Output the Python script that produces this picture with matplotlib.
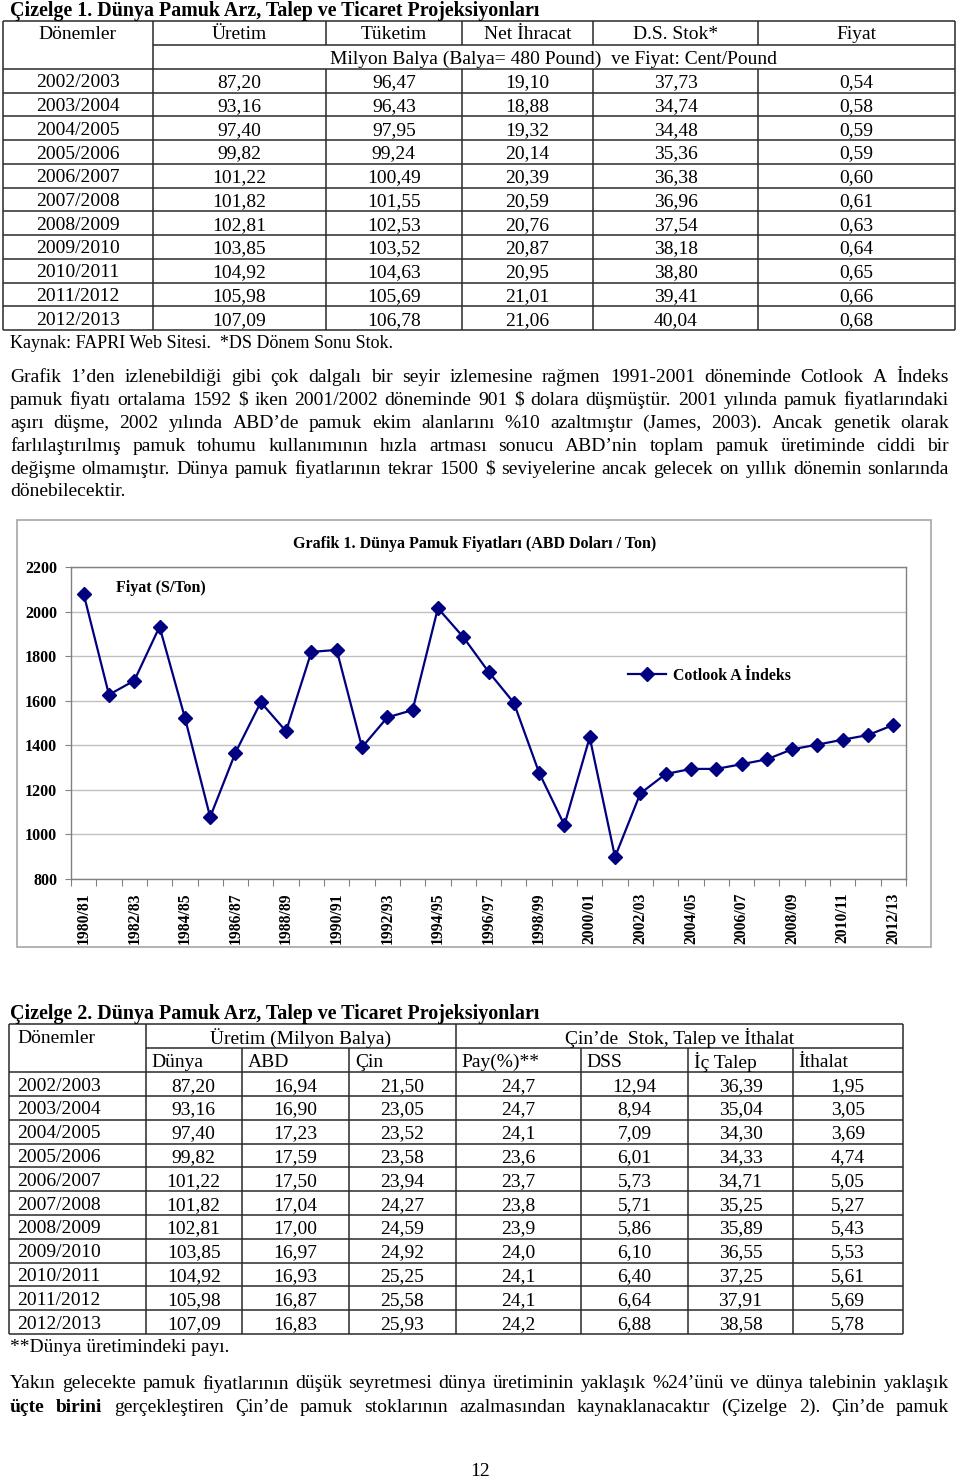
import numpy as np
import matplotlib
matplotlib.use('Agg')
import matplotlib.pyplot as plt
from matplotlib.patches import Rectangle

plt.rcParams['font.family'] = ['Liberation Serif', 'DejaVu Serif']

# ---------------- data ----------------
t1_periods = ["2002/2003", "2003/2004", "2004/2005", "2005/2006", "2006/2007", "2007/2008",
              "2008/2009", "2009/2010", "2010/2011", "2011/2012", "2012/2013"]
t1_uretim = [87.20, 93.16, 97.40, 99.82, 101.22, 101.82, 102.81, 103.85, 104.92, 105.98, 107.09]
t1_tuketim = [96.47, 96.43, 97.95, 99.24, 100.49, 101.55, 102.53, 103.52, 104.63, 105.69, 106.78]
t1_ihracat = [19.10, 18.88, 19.32, 20.14, 20.39, 20.59, 20.76, 20.87, 20.95, 21.01, 21.06]
t1_stok = [37.73, 34.74, 34.48, 35.36, 36.38, 36.96, 37.54, 38.18, 38.80, 39.41, 40.04]
t1_fiyat = [0.54, 0.58, 0.59, 0.59, 0.60, 0.61, 0.63, 0.64, 0.65, 0.66, 0.68]
t1_headers = ["Dönemler", "Üretim", "Tüketim", "Net İhracat", "D.S. Stok*", "Fiyat"]

seasons = ["1980/81", "1981/82", "1982/83", "1983/84", "1984/85", "1985/86", "1986/87",
           "1987/88", "1988/89", "1989/90", "1990/91", "1991/92", "1992/93", "1993/94",
           "1994/95", "1995/96", "1996/97", "1997/98", "1998/99", "1999/00", "2000/01",
           "2001/02", "2002/03", "2003/04", "2004/05", "2005/06", "2006/07", "2007/08",
           "2008/09", "2009/10", "2010/11", "2011/12", "2012/13"]
prices = [2079, 1627, 1690, 1932, 1524, 1078, 1367, 1593, 1463, 1819, 1828,
          1391, 1525, 1558, 2015, 1886, 1730, 1591, 1277, 1042, 1436, 899,
          1184, 1271, 1294, 1294, 1315, 1337, 1382, 1403, 1425, 1446, 1491]
yticks = [800, 1000, 1200, 1400, 1600, 1800, 2000, 2200]

t2_periods = t1_periods
t2_dunya = [87.20, 93.16, 97.40, 99.82, 101.22, 101.82, 102.81, 103.85, 104.92, 105.98, 107.09]
t2_abd = [16.94, 16.90, 17.23, 17.59, 17.50, 17.04, 17.00, 16.97, 16.93, 16.87, 16.83]
t2_cin = [21.50, 23.05, 23.52, 23.58, 23.94, 24.27, 24.59, 24.92, 25.25, 25.58, 25.93]
t2_pay = [24.7, 24.7, 24.1, 23.6, 23.7, 23.8, 23.9, 24.0, 24.1, 24.1, 24.2]
t2_dss = [12.94, 8.94, 7.09, 6.01, 5.73, 5.71, 5.86, 6.10, 6.40, 6.64, 6.88]
t2_ictalep = [36.39, 35.04, 34.30, 34.33, 34.71, 35.25, 35.89, 36.55, 37.25, 37.91, 38.58]
t2_ithalat = [1.95, 3.05, 3.69, 4.74, 5.05, 5.27, 5.43, 5.53, 5.61, 5.69, 5.78]
t2_sub = ["Dünya", "ABD", "Çin", "Pay(%)**", "DSS", "İç Talep", "İthalat"]

para1 = [
    "Grafik 1’den izlenebildiği gibi çok dalgalı bir seyir izlemesine rağmen 1991-2001 döneminde Cotlook A İndeks",
    "pamuk fiyatı ortalama 1592 $ iken 2001/2002 döneminde 901 $ dolara düşmüştür. 2001 yılında pamuk fiyatlarındaki",
    "aşırı düşme, 2002 yılında ABD’de pamuk ekim alanlarını %10 azaltmıştır (James, 2003). Ancak genetik olarak",
    "farlılaştırılmış pamuk tohumu kullanımının hızla artması sonucu ABD’nin toplam pamuk üretiminde ciddi bir",
    "değişme olmamıştır. Dünya pamuk fiyatlarının tekrar 1500 $ seviyelerine ancak gelecek on yıllık dönemin sonlarında",
    "dönebilecektir.",
]
para2_l1 = "Yakın gelecekte pamuk fiyatlarının düşük seyretmesi dünya üretiminin yaklaşık %24’ünü ve dünya talebinin yaklaşık"
para2_l2_bold = "üçte birini"
para2_l2 = "gerçekleştiren Çin’de pamuk stoklarının azalmasından kaynaklanacaktır (Çizelge 2). Çin’de pamuk"

# ---------------- page ----------------
W, H = 960, 1478
fig = plt.figure(figsize=(W / 100, H / 100), dpi=100)
bg = fig.add_axes([0, 0, 1, 1])
bg.set_xlim(0, W)
bg.set_ylim(H, 0)
bg.axis('off')
renderer = fig.canvas.get_renderer()

FS = 14
LC = '#2a2a2a'
LW = 1.1
DY = 2.0  # vertical text nudge


def fmt(v, d=2):
    return f"{v:.{d}f}".replace('.', ',')


def txt(x, y, s, size=FS, weight='normal', ha='left', va='center', **kw):
    return bg.text(x, y + DY, s, fontsize=size, fontweight=weight, ha=ha, va=va,
                   parse_math=False, **kw)


def hline(y, x0, x1, color=LC, lw=LW):
    bg.plot([x0, x1], [y, y], color=color, lw=lw, solid_capstyle='butt')


def vline(x, y0, y1, color=LC, lw=LW):
    bg.plot([x, x], [y0, y1], color=color, lw=lw, solid_capstyle='butt')


def measure(s, size, weight):
    t = bg.text(0, 0, s, fontsize=size, fontweight=weight, parse_math=False)
    w = t.get_window_extent(renderer).width
    t.remove()
    return w


def justified(words, y, size=FS, x0=10, x1=949, justify=True):
    while True:
        ws = [measure(w, size, wt) for w, wt in words]
        space = measure('a b', size, 'normal') - measure('ab', size, 'normal')
        n = len(words)
        if not justify or n == 1:
            gap = space
            break
        gap = (x1 - x0 - sum(ws)) / (n - 1)
        if gap >= 0.55 * space:
            break
        size -= 0.25
    x = x0
    for (w, wt), wd in zip(words, ws):
        txt(x, y, w, size=size, weight=wt)
        x += wd + gap


# ---------------- Table 1 ----------------
txt(10, 9, "Çizelge 1. Dünya Pamuk Arz, Talep ve Ticaret Projeksiyonları", size=14.4, weight='bold')
c1 = [3, 152.7, 326, 461.7, 593.3, 758.3, 955]
r_top, r_h1, r_h2 = 20.7, 45, 69
rh1 = (330 - r_h2) / len(t1_periods)
rows1 = [r_h2 + i * rh1 for i in range(len(t1_periods) + 1)]

hline(r_top, c1[0], c1[-1])
hline(r_h1, c1[1], c1[-1])
for y in rows1:
    hline(y, c1[0], c1[-1])
vline(c1[0], r_top, rows1[-1])
vline(c1[1], r_top, rows1[-1])
vline(c1[-1], r_top, rows1[-1])
for x in c1[2:-1]:
    vline(x, r_top, r_h1)
    vline(x, r_h2, rows1[-1])

for i, h in enumerate(t1_headers):
    txt((c1[i] + c1[i + 1]) / 2, (r_top + r_h1) / 2, h, ha='center')
txt((c1[1] + c1[-1]) / 2, (r_h1 + r_h2) / 2,
    "Milyon Balya (Balya= 480 Pound)  ve Fiyat: Cent/Pound", ha='center')

cols1 = [t1_uretim, t1_tuketim, t1_ihracat, t1_stok, t1_fiyat]
for r, p in enumerate(t1_periods):
    yc = (rows1[r] + rows1[r + 1]) / 2
    txt((c1[0] + c1[1]) / 2, yc, p, ha='center')
    for j, col in enumerate(cols1):
        txt((c1[j + 1] + c1[j + 2]) / 2, yc, fmt(col[r]), ha='center')

txt(10, 342, "Kaynak: FAPRI Web Sitesi.  *DS Dönem Sonu Stok.", size=13)

# ---------------- Paragraph 1 ----------------
p1_y = [376, 398.5, 421.5, 444.5, 467, 490]
for k, line in enumerate(para1):
    words = [(w, 'normal') for w in line.split()]
    justified(words, p1_y[k], justify=(k < len(para1) - 1))

# ---------------- Chart ----------------
bg.add_patch(Rectangle((17, 520), 931 - 17, 947 - 520, fill=False,
                       edgecolor='#a6a6a6', lw=1.2))
ax = fig.add_axes([71 / W, 1 - 879 / H, 835 / W, 312 / H])
xs = np.arange(len(seasons))
ax.plot(xs, prices, color='#000080', lw=1.6, marker='D', ms=7,
        label='Cotlook A İndeks', zorder=3)
ax.set_xlim(-0.5, len(seasons) - 0.5)
ax.set_ylim(yticks[0], yticks[-1])
ax.set_yticks(yticks)
ax.set_yticklabels([str(v) for v in yticks], fontweight='bold', fontsize=11.5)
ax.yaxis.grid(True, color='#c0c0c0', lw=1)
ax.set_axisbelow(True)
ax.set_xticks(np.arange(-0.5, len(seasons)))
ax.set_xticklabels([])
ax.set_xticks(xs[::2], minor=True)
ax.set_xticklabels(seasons[::2], minor=True, rotation=90, fontweight='bold', fontsize=11.3)
ax.tick_params(axis='x', which='major', length=5, direction='out', color='#808080')
ax.tick_params(axis='x', which='minor', length=0, pad=9.5)
ax.tick_params(axis='y', length=4, color='#808080', pad=6.0)
for s in ax.spines.values():
    s.set_color('#808080')
    s.set_linewidth(1.0)
ax.patch.set_alpha(0)
ax.legend(loc='center left', bbox_to_anchor=((628 - 71) / 835, (879 - 676) / 312),
          frameon=False, borderpad=0, borderaxespad=0, handlelength=2.4,
          handletextpad=0.45, prop={'weight': 'bold', 'size': 11.4})

txt(293, 542, "Grafik 1. Dünya Pamuk Fiyatları (ABD Doları / Ton)", size=11.5, weight='bold')
txt(116, 585.5, "Fiyat (S/Ton)", size=11.5, weight='bold')

# ---------------- Table 2 ----------------
txt(10, 1012, "Çizelge 2. Dünya Pamuk Arz, Talep ve Ticaret Projeksiyonları", size=14.4, weight='bold')
c2 = [9.3, 145.7, 241.7, 349, 455.7, 580.7, 688.3, 792.7, 902.7]
q_top, q_h1, q_h2 = 1024.3, 1048.3, 1072.3
rh2 = (1334 - q_h2) / len(t2_periods)
rows2 = [q_h2 + i * rh2 for i in range(len(t2_periods) + 1)]

hline(q_top, c2[0], c2[-1])
hline(q_h1, c2[1], c2[-1])
for y in rows2:
    hline(y, c2[0], c2[-1])
for x in [c2[0], c2[1], c2[4], c2[-1]]:
    vline(x, q_top, rows2[-1])
for x in [c2[2], c2[3], c2[5], c2[6], c2[7]]:
    vline(x, q_h1, rows2[-1])

txt(17, (q_top + q_h1) / 2, "Dönemler")
txt((c2[1] + c2[4]) / 2, (q_top + q_h1) / 2, "Üretim (Milyon Balya)", ha='center')
txt((c2[4] + c2[-1]) / 2, (q_top + q_h1) / 2, "Çin’de  Stok, Talep ve İthalat", ha='center')
for j, h in enumerate(t2_sub):
    txt(c2[j + 1] + 6, (q_h1 + q_h2) / 2, h)

cols2 = [(t2_dunya, 2), (t2_abd, 2), (t2_cin, 2), (t2_pay, 1), (t2_dss, 2),
         (t2_ictalep, 2), (t2_ithalat, 2)]
for r, p in enumerate(t2_periods):
    yc = (rows2[r] + rows2[r + 1]) / 2
    txt(17, yc, p)
    for j, (col, d) in enumerate(cols2):
        txt((c2[j + 1] + c2[j + 2]) / 2, yc, fmt(col[r], d), ha='center')

txt(10, 1346, "**Dünya üretimindeki payı.")

# ---------------- Paragraph 2 ----------------
justified([(w, 'normal') for w in para2_l1.split()], 1382)
justified([(w, 'bold') for w in para2_l2_bold.split()] +
          [(w, 'normal') for w in para2_l2.split()], 1405)

txt(480, 1469, "12", ha='center')

fig.savefig('out.png', dpi=100)
